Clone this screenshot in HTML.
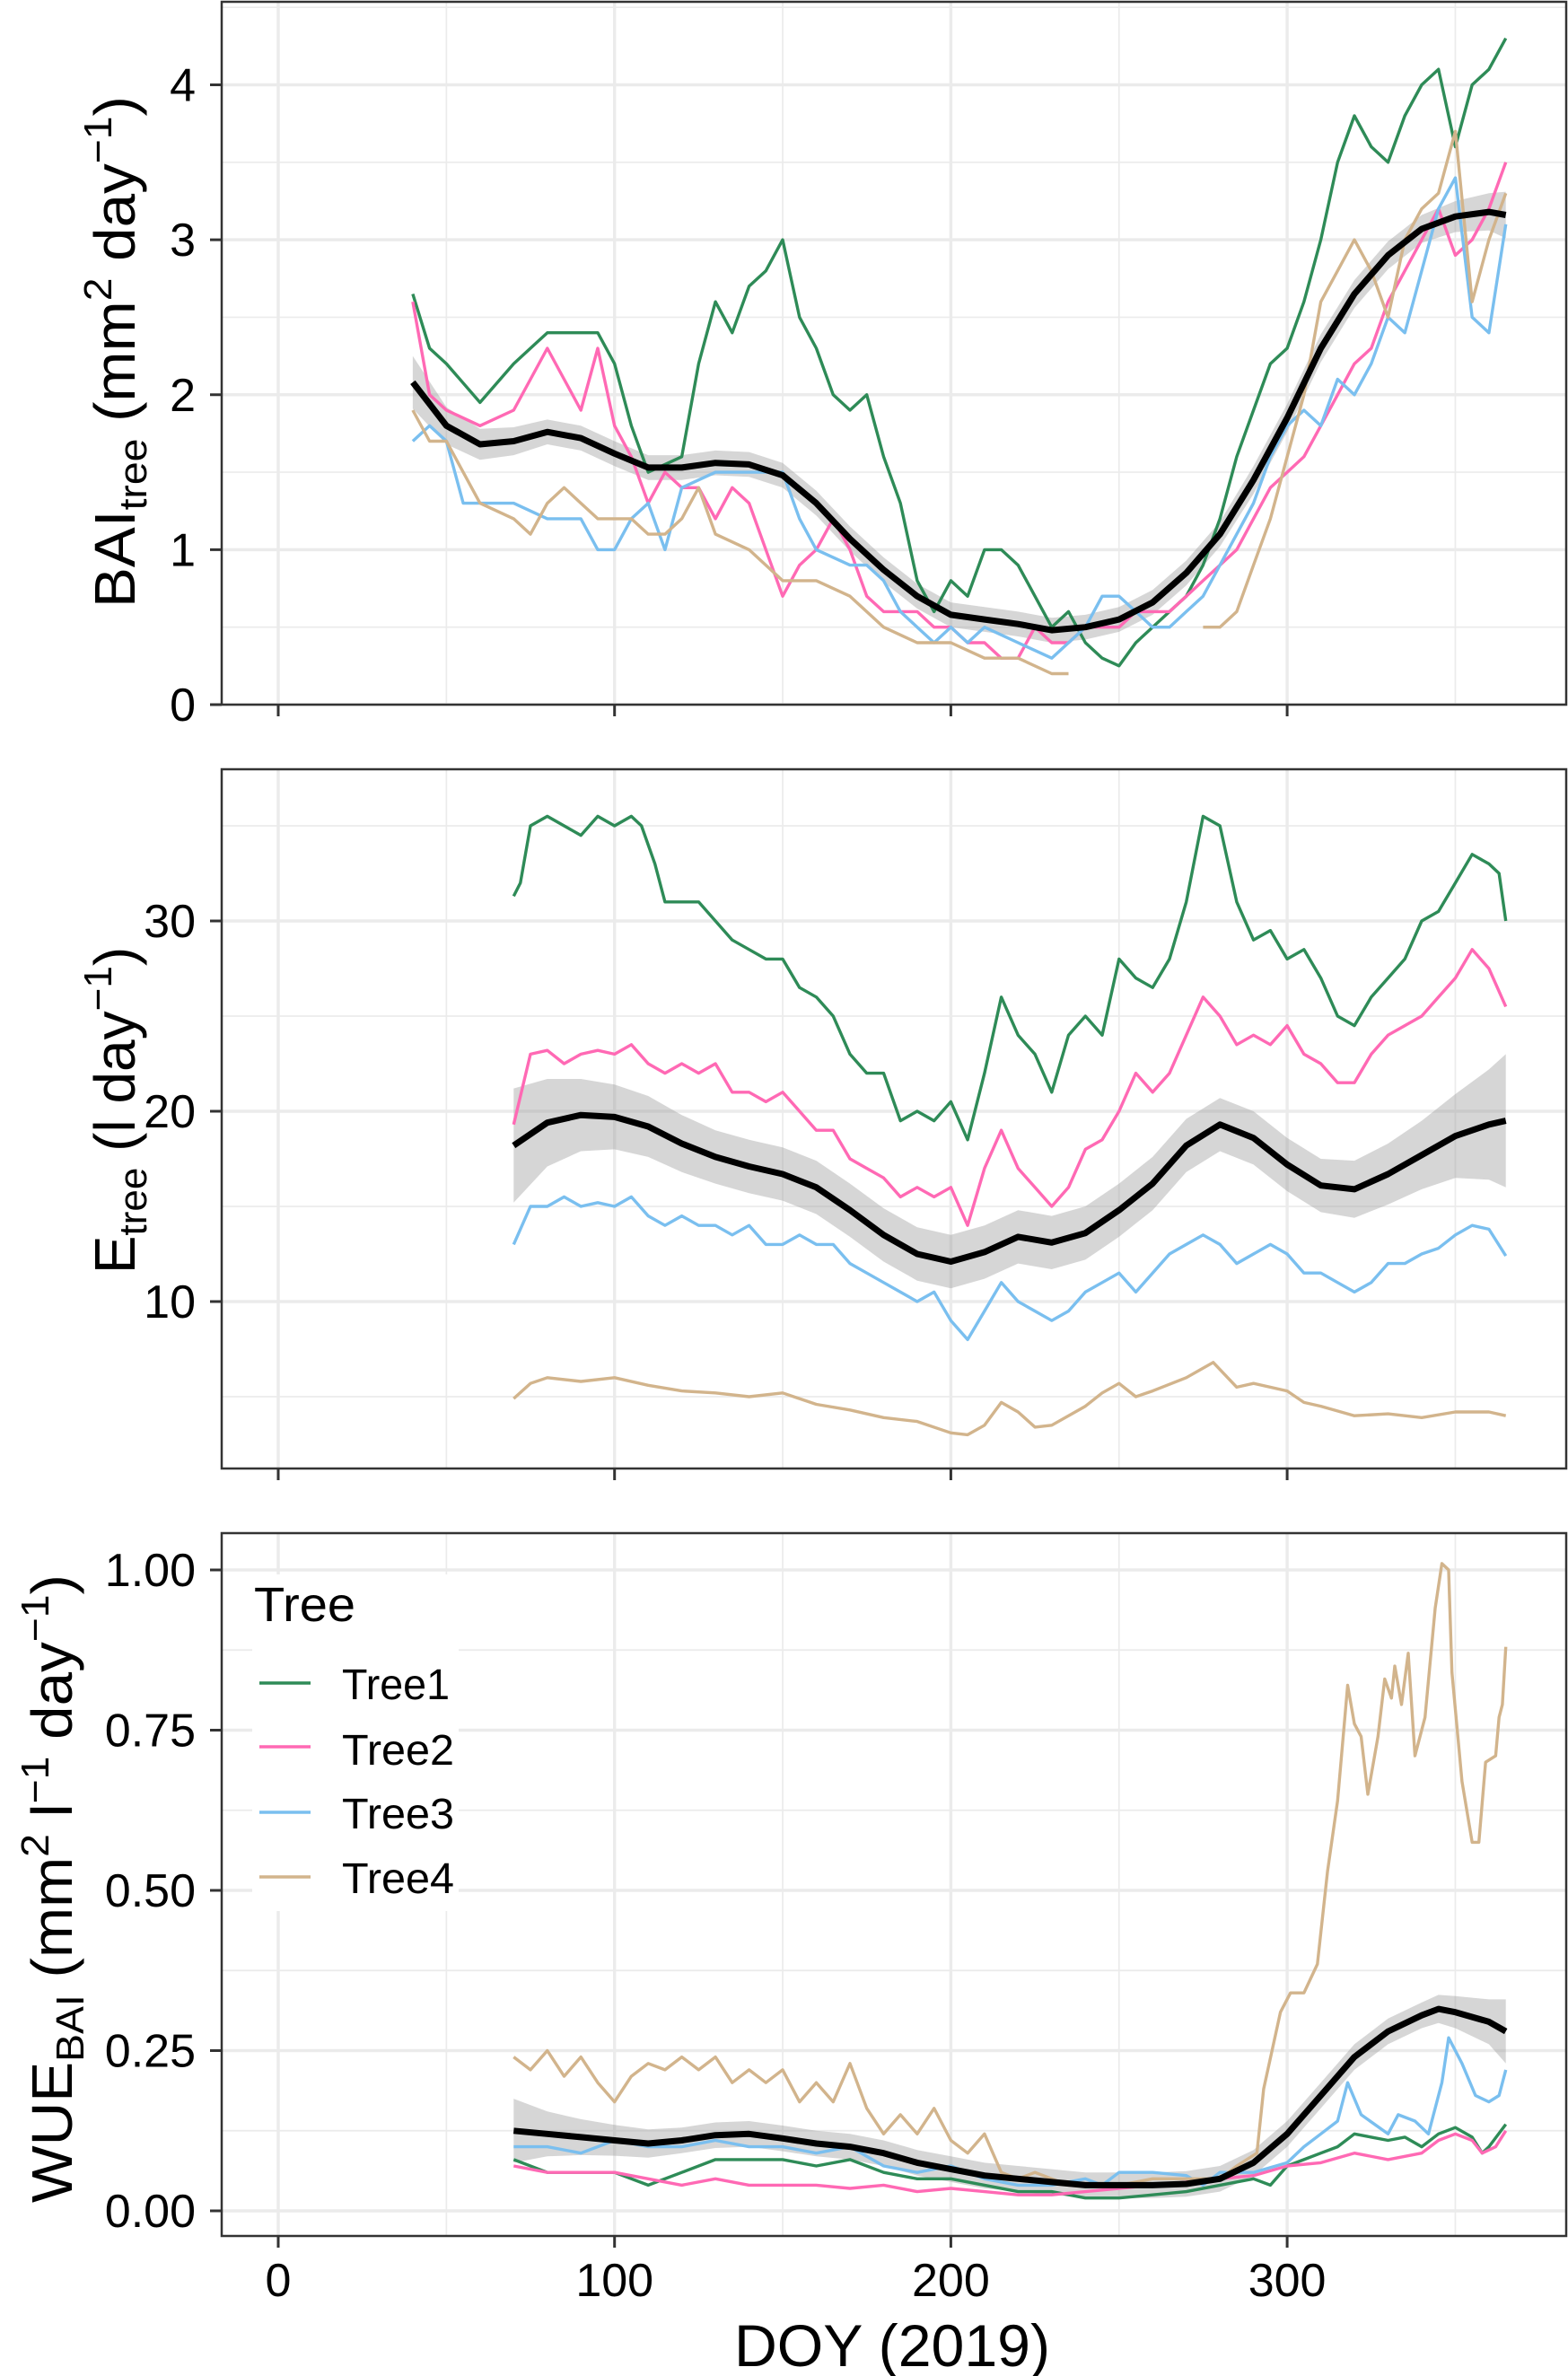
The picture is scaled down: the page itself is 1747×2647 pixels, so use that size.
<!DOCTYPE html>
<html><head><meta charset="utf-8"><style>
html,body{margin:0;padding:0;background:#fff}
svg{display:block;font-family:"Liberation Sans",Arial,sans-serif}
</style></head><body>
<svg id="chart" width="1747" height="2647" viewBox="0 0 1747 2647" xmlns="http://www.w3.org/2000/svg">
<g id="panels"></g>
<text x="994" y="2636" font-size="66" text-anchor="middle" fill="#000" textLength="352" lengthAdjust="spacingAndGlyphs">DOY (2019)</text>
<text transform="translate(150,392) rotate(-90)" font-size="64" text-anchor="middle" fill="#000" textLength="570" lengthAdjust="spacingAndGlyphs">BAI<tspan font-size="44" dy="13">tree</tspan><tspan dy="-13"> (mm</tspan><tspan font-size="44" dy="-26">2</tspan><tspan dy="26"> day</tspan><tspan font-size="44" dy="-26">−1</tspan><tspan dy="26">)</tspan></text>
<text transform="translate(150,1237) rotate(-90)" font-size="64" text-anchor="middle" fill="#000">E<tspan font-size="44" dy="13">tree</tspan><tspan dy="-13"> (l day</tspan><tspan font-size="44" dy="-26">−1</tspan><tspan dy="26">)</tspan></text>
<text transform="translate(80,2104) rotate(-90)" font-size="64" text-anchor="middle" fill="#000" textLength="700" lengthAdjust="spacingAndGlyphs">WUE<tspan font-size="44" dy="13">BAI</tspan><tspan dy="-13"> (mm</tspan><tspan font-size="44" dy="-26">2</tspan><tspan dy="26"> l</tspan><tspan font-size="44" dy="-26">−1</tspan><tspan dy="26"> day</tspan><tspan font-size="44" dy="-26">−1</tspan><tspan dy="26">)</tspan></text>
<g>
<text x="283" y="1806" font-size="54" fill="#000" textLength="113" lengthAdjust="spacingAndGlyphs">Tree</text>
<line x1="289" y1="1875" x2="346" y2="1875" stroke="#2e8b57" stroke-width="3.5"/>
<text x="381" y="1893" font-size="48" textLength="120" lengthAdjust="spacingAndGlyphs">Tree1</text>
<line x1="289" y1="1946" x2="346" y2="1946" stroke="#ff69b4" stroke-width="3.5"/>
<text x="381" y="1966" font-size="48" textLength="125" lengthAdjust="spacingAndGlyphs">Tree2</text>
<line x1="289" y1="2019" x2="346" y2="2019" stroke="#7abfef" stroke-width="3.5"/>
<text x="381" y="2037" font-size="48" textLength="125" lengthAdjust="spacingAndGlyphs">Tree3</text>
<line x1="289" y1="2091" x2="346" y2="2091" stroke="#d2b48c" stroke-width="3.5"/>
<text x="381" y="2109" font-size="48" textLength="125" lengthAdjust="spacingAndGlyphs">Tree4</text>
</g>
</svg>
<script>
// x tick values
const xTicks = [0,100,200,300];
const xMinor = [50,150,250,350];
// BAI panel
const baiTicks = [0,1,2,3,4];
const baiT1x = [40,45,50,60,70,80,90,95,100,105,110,120,125,130,135,140,145,150,152,155,160,165,170,175,180,185,190,195,200,205,210,215,220,225,230,235,240,245,250,255,260,265,270,275,280,285,290,295,300,305,310,315,320,325,330,335,340,345,350,355,360,365];
const baiT1y = [2.65,2.3,2.2,1.95,2.2,2.4,2.4,2.4,2.2,1.8,1.5,1.6,2.2,2.6,2.4,2.7,2.8,3.0,2.8,2.5,2.3,2.0,1.9,2.0,1.6,1.3,0.8,0.6,0.8,0.7,1.0,1.0,0.9,0.7,0.5,0.6,0.4,0.3,0.25,0.4,0.5,0.6,0.7,0.9,1.2,1.6,1.9,2.2,2.3,2.6,3.0,3.5,3.8,3.6,3.5,3.8,4.0,4.1,3.6,4.0,4.1,4.3];
const baiT2x = [40,45,50,60,70,80,85,90,95,100,105,110,115,120,125,130,135,140,145,150,155,160,165,170,175,180,185,190,195,200,205,210,215,220,225,230,235,240,245,250,255,260,265,270,275,280,285,290,295,300,305,310,315,320,325,330,335,340,345,350,355,360,365];
const baiT2y = [2.6,2.0,1.9,1.8,1.9,2.3,2.1,1.9,2.3,1.8,1.6,1.3,1.5,1.4,1.4,1.2,1.4,1.3,1.0,0.7,0.9,1.0,1.2,1.0,0.7,0.6,0.6,0.6,0.5,0.5,0.4,0.4,0.3,0.3,0.5,0.4,0.4,0.5,0.5,0.5,0.6,0.6,0.6,0.7,0.8,0.9,1.0,1.2,1.4,1.5,1.6,1.8,2.0,2.2,2.3,2.6,2.8,3.0,3.2,2.9,3.0,3.2,3.5];
const baiT3x = [40,45,50,55,60,70,80,90,95,100,105,110,115,120,130,140,150,155,160,170,175,180,185,190,195,200,205,210,220,230,240,245,250,255,260,265,270,275,280,285,290,295,300,305,310,315,320,325,330,335,340,345,350,355,360,365];
const baiT3y = [1.7,1.8,1.7,1.3,1.3,1.3,1.2,1.2,1.0,1.0,1.2,1.3,1.0,1.4,1.5,1.5,1.5,1.2,1.0,0.9,0.9,0.8,0.6,0.5,0.4,0.5,0.4,0.5,0.4,0.3,0.5,0.7,0.7,0.6,0.5,0.5,0.6,0.7,0.9,1.1,1.3,1.6,1.8,1.9,1.8,2.1,2.0,2.2,2.5,2.4,2.8,3.2,3.4,2.5,2.4,3.1];
const baiT4x = [40,45,50,55,60,70,75,80,85,90,95,100,105,110,115,120,125,130,140,150,160,170,180,190,200,210,220,230,235,null,275,280,285,290,295,300,305,310,315,320,325,330,335,340,345,350,355,360,365];
const baiT4y = [1.9,1.7,1.7,1.5,1.3,1.2,1.1,1.3,1.4,1.3,1.2,1.2,1.2,1.1,1.1,1.2,1.4,1.1,1.0,0.8,0.8,0.7,0.5,0.4,0.4,0.3,0.3,0.2,0.2,null,0.5,0.5,0.6,0.9,1.2,1.6,2.0,2.6,2.8,3.0,2.8,2.5,3.0,3.2,3.3,3.7,2.6,3.0,3.3];
const baiMeanX = [40,50,60,70,80,90,100,110,120,130,140,150,160,170,180,190,200,210,220,230,240,250,260,270,280,290,300,310,320,330,340,350,360,365];
const baiMeanY = [2.08,1.8,1.68,1.7,1.76,1.72,1.62,1.53,1.53,1.56,1.55,1.48,1.3,1.07,0.87,0.7,0.58,0.55,0.52,0.48,0.5,0.55,0.66,0.85,1.1,1.45,1.85,2.3,2.65,2.9,3.07,3.15,3.18,3.16];
const baiSe = [0.17,0.12,0.1,0.09,0.08,0.08,0.08,0.08,0.08,0.08,0.08,0.08,0.08,0.08,0.08,0.08,0.08,0.08,0.08,0.08,0.08,0.08,0.08,0.08,0.08,0.09,0.09,0.09,0.09,0.09,0.09,0.1,0.12,0.15];
// E panel
const eTicks = [10,20,30];
const eT1x = [70,72,75,80,85,90,95,100,105,108,112,115,120,125,130,135,140,145,150,155,160,165,170,175,180,185,190,195,200,205,210,215,220,225,230,235,240,245,250,255,260,265,270,275,280,285,290,295,300,305,310,315,320,325,330,335,340,345,350,355,360,363,365];
const eT1y = [31.3,32,35,35.5,35,34.5,35.5,35,35.5,35,33,31,31,31,30,29,28.5,28,28,26.5,26,25,23,22,22,19.5,20,19.5,20.5,18.5,22,26,24,23,21,24,25,24,28,27,26.5,28,31,35.5,35,31,29,29.5,28,28.5,27,25,24.5,26,27,28,30,30.5,32,33.5,33,32.5,30];
const eT2x = [70,75,80,85,90,95,100,105,110,115,120,125,130,135,140,145,150,155,160,165,170,175,180,185,190,195,200,205,210,215,220,225,230,235,240,245,250,255,260,265,270,275,280,285,290,295,300,305,310,315,320,325,330,335,340,345,350,355,360,365];
const eT2y = [19.3,23,23.2,22.5,23,23.2,23,23.5,22.5,22,22.5,22,22.5,21,21,20.5,21,20,19,19,17.5,17,16.5,15.5,16,15.5,16,14,17,19,17,16,15,16,18,18.5,20,22,21,22,24,26,25,23.5,24,23.5,24.5,23,22.5,21.5,21.5,23,24,24.5,25,26,27,28.5,27.5,25.5];
const eT3x = [70,75,80,85,90,95,100,105,110,115,120,125,130,135,140,145,150,155,160,165,170,175,180,185,190,195,200,205,210,215,220,225,230,235,240,245,250,255,260,265,270,275,280,285,290,295,300,305,310,315,320,325,330,335,340,345,350,355,360,365];
const eT3y = [13,15,15,15.5,15,15.2,15,15.5,14.5,14,14.5,14,14,13.5,14,13,13,13.5,13,13,12,11.5,11,10.5,10,10.5,9,8,9.5,11,10,9.5,9,9.5,10.5,11,11.5,10.5,11.5,12.5,13,13.5,13,12,12.5,13,12.5,11.5,11.5,11,10.5,11,12,12,12.5,12.8,13.5,14,13.8,12.4];
const eT4x = [70,75,80,90,100,110,120,130,140,150,160,170,180,190,200,205,210,215,220,225,230,240,245,250,255,260,270,278,285,290,300,305,310,320,330,340,350,360,365];
const eT4y = [4.9,5.7,6,5.8,6,5.6,5.3,5.2,5,5.2,4.6,4.3,3.9,3.7,3.1,3,3.5,4.7,4.2,3.4,3.5,4.5,5.2,5.7,5,5.3,6,6.8,5.5,5.7,5.3,4.7,4.5,4,4.1,3.9,4.2,4.2,4];
const eMeanX = [70,80,90,100,110,120,130,140,150,160,170,180,190,200,210,220,230,240,250,260,270,280,290,300,310,320,330,340,350,360,365];
const eMeanY = [18.2,19.4,19.8,19.7,19.2,18.3,17.6,17.1,16.7,16.0,14.8,13.5,12.5,12.1,12.6,13.4,13.1,13.6,14.8,16.2,18.2,19.3,18.6,17.2,16.1,15.9,16.7,17.7,18.7,19.3,19.5];
const eSe = [3.0,2.3,1.9,1.7,1.6,1.5,1.4,1.4,1.4,1.4,1.4,1.4,1.4,1.4,1.4,1.4,1.4,1.4,1.4,1.4,1.4,1.4,1.4,1.4,1.4,1.5,1.6,1.8,2.2,2.9,3.5];
// WUE panel
const wTicks = [0,0.25,0.5,0.75,1.0];
const wTickLabels = ["0.00","0.25","0.50","0.75","1.00"];
const wT1x = [70,80,90,100,110,120,130,140,150,160,170,180,190,200,210,220,230,240,250,260,270,280,290,295,300,305,310,315,320,325,330,335,340,345,350,355,358,360,365];
const wT1y = [0.08,0.06,0.06,0.06,0.04,0.06,0.08,0.08,0.08,0.07,0.08,0.06,0.05,0.05,0.04,0.03,0.03,0.02,0.02,0.025,0.03,0.04,0.05,0.04,0.07,0.08,0.09,0.1,0.12,0.115,0.11,0.115,0.1,0.12,0.13,0.115,0.09,0.1,0.135];
const wT2x = [70,80,90,100,110,120,130,140,150,160,170,180,190,200,210,220,230,240,250,260,270,280,290,300,310,320,330,340,345,350,355,358,362,365];
const wT2y = [0.07,0.06,0.06,0.06,0.05,0.04,0.05,0.04,0.04,0.04,0.035,0.04,0.03,0.035,0.03,0.025,0.025,0.03,0.035,0.04,0.045,0.05,0.055,0.07,0.075,0.09,0.08,0.09,0.11,0.12,0.11,0.09,0.1,0.125];
const wT3x = [70,80,90,100,110,120,130,140,150,160,170,180,190,200,210,220,230,240,245,250,260,270,275,280,290,300,305,310,315,318,322,330,333,338,342,346,348,352,356,360,363,365];
const wT3y = [0.1,0.1,0.09,0.11,0.1,0.1,0.11,0.1,0.1,0.09,0.1,0.07,0.06,0.07,0.05,0.04,0.04,0.05,0.04,0.06,0.06,0.055,0.04,0.06,0.06,0.075,0.1,0.12,0.14,0.2,0.15,0.12,0.15,0.14,0.12,0.2,0.27,0.23,0.18,0.17,0.18,0.22];
const wT4x = [70,75,80,85,90,95,100,105,110,115,120,125,130,135,140,145,150,155,160,165,170,175,180,185,190,195,200,205,210,215,220,225,230,235,240,250,260,270,280,285,291,293,298,301,305,309,312,315,318,320,322,324,327,329,331,332,334,336,338,341,344,346,348,349,352,355,357,359,362,363,364,365];
const wT4y = [0.24,0.22,0.25,0.21,0.24,0.2,0.17,0.21,0.23,0.22,0.24,0.22,0.24,0.2,0.22,0.2,0.22,0.17,0.2,0.17,0.23,0.16,0.12,0.15,0.12,0.16,0.11,0.09,0.12,0.06,0.05,0.06,0.05,0.04,0.04,0.04,0.05,0.05,0.05,0.07,0.09,0.19,0.31,0.34,0.34,0.385,0.53,0.64,0.82,0.76,0.74,0.65,0.74,0.83,0.8,0.85,0.79,0.87,0.71,0.77,0.94,1.01,1.0,0.84,0.67,0.575,0.575,0.7,0.71,0.77,0.79,0.88];
const wMeanX = [70,80,90,100,110,120,130,140,150,160,170,180,190,200,210,220,230,240,250,260,270,280,290,300,310,320,330,340,345,350,360,365];
const wMeanY = [0.125,0.12,0.115,0.11,0.105,0.11,0.118,0.12,0.113,0.105,0.1,0.09,0.075,0.065,0.055,0.05,0.045,0.04,0.04,0.04,0.042,0.05,0.075,0.12,0.18,0.24,0.28,0.305,0.315,0.31,0.295,0.28];
const wSe = [0.05,0.035,0.028,0.024,0.022,0.02,0.02,0.02,0.02,0.02,0.02,0.02,0.02,0.02,0.02,0.02,0.02,0.02,0.02,0.02,0.02,0.02,0.02,0.02,0.02,0.02,0.02,0.02,0.022,0.025,0.035,0.05];

const NS='http://www.w3.org/2000/svg';
const root=document.getElementById('panels');
const PL=247, PR=1745;
function xScale(v){return 310+v*3.747;}
function mk(tag,attrs,parent){const e=document.createElementNS(NS,tag);for(const k in attrs)e.setAttribute(k,attrs[k]);parent.appendChild(e);return e;}
function pathFrom(xs,ys,sx,sy){let d='',pen=false;for(let i=0;i<xs.length;i++){if(xs[i]===null||ys[i]===null){pen=false;continue;}d+=(pen?'L':'M')+sx(xs[i]).toFixed(1)+','+sy(ys[i]).toFixed(1);pen=true;}return d;}

function panel(name,top,bot,y0,yPx0,y1,yPx1,ticks,labels,minors,series,mx,my,se,legendBox){
  const sy=v=>yPx0+(v-y0)*(yPx1-yPx0)/(y1-y0);
  const g=mk('g',{},root);
  
  
  const clipId='clip-'+name;
  const cp=mk('clipPath',{id:clipId},g);mk('rect',{x:PL,y:top,width:PR-PL,height:bot-top},cp);
  const grid=mk('g',{},g);
  
  
  minors.forEach(v=>{const y=sy(v);if(y>top&&y<bot)mk('line',{x1:PL,x2:PR,y1:y,y2:y,stroke:'#ebebeb','stroke-width':1.7},grid);});
  xMinor.forEach(v=>{const x=xScale(v);mk('line',{x1:x,x2:x,y1:top,y2:bot,stroke:'#ebebeb','stroke-width':1.7},grid);});
  ticks.forEach(v=>{const y=sy(v);mk('line',{x1:PL,x2:PR,y1:y,y2:y,stroke:'#ebebeb','stroke-width':3.4},grid);});
  xTicks.forEach(v=>{const x=xScale(v);mk('line',{x1:x,x2:x,y1:top,y2:bot,stroke:'#ebebeb','stroke-width':3.4},grid);});
  if(legendBox){const lb=mk('rect',{x:281,y:1754,width:230,height:375,fill:'#fff'},grid);
    
    }
  const data=mk('g',{'clip-path':'url(#'+clipId+')'},g);
  let d='';
  for(let i=0;i<mx.length;i++)d+=(i?'L':'M')+xScale(mx[i]).toFixed(1)+','+sy(my[i]+se[i]).toFixed(1);
  for(let i=mx.length-1;i>=0;i--)d+='L'+xScale(mx[i]).toFixed(1)+','+sy(my[i]-se[i]).toFixed(1);
  const rib=mk('path',{d:d+'Z',fill:'#999','fill-opacity':0.4},data);
  
  
  series.forEach(s=>{
    const p=mk('path',{d:pathFrom(s.x,s.y,xScale,sy),fill:'none',stroke:s.c,'stroke-width':3.4,'stroke-linejoin':'round'},data);
    
    
  });
  const m=mk('path',{d:pathFrom(mx,my,xScale,sy),fill:'none',stroke:'#000','stroke-width':7,'stroke-linejoin':'round'},data);
  
  
  const fr=mk('rect',{x:PL,y:top,width:PR-PL,height:bot-top,fill:'none',stroke:'#333','stroke-width':2.5},g);
  
  
  ticks.forEach((v,i)=>{const y=sy(v);
    mk('line',{x1:PL-13,x2:PL,y1:y,y2:y,stroke:'#333','stroke-width':3},g);
    const t=mk('text',{x:218,y:y+18,'font-size':52,'text-anchor':'end',fill:'#000'},g);
    
    
    t.textContent=labels[i];});
  xTicks.forEach(v=>{const x=xScale(v);mk('line',{x1:x,x2:x,y1:bot,y2:bot+13,stroke:'#333','stroke-width':3},g);});
  return g;
}
panel('bai',2,785,0,785,4,94.5,baiTicks,baiTicks.map(String),[0.5,1.5,2.5,3.5,4.5],
 [{n:'tree1',c:'#2e8b57',x:baiT1x,y:baiT1y},{n:'tree2',c:'#ff69b4',x:baiT2x,y:baiT2y},{n:'tree3',c:'#7abfef',x:baiT3x,y:baiT3y},{n:'tree4',c:'#d2b48c',x:baiT4x,y:baiT4y}],
 baiMeanX,baiMeanY,baiSe,false);
panel('e',857,1636,10,1450,30,1026,eTicks,eTicks.map(String),[5,15,25,35],
 [{n:'tree1',c:'#2e8b57',x:eT1x,y:eT1y},{n:'tree2',c:'#ff69b4',x:eT2x,y:eT2y},{n:'tree3',c:'#7abfef',x:eT3x,y:eT3y},{n:'tree4',c:'#d2b48c',x:eT4x,y:eT4y}],
 eMeanX,eMeanY,eSe,false);
const wg=panel('wue',1708,2491,0,2463,1,1749,wTicks,wTickLabels,[0.125,0.375,0.625,0.875],
 [{n:'tree1',c:'#2e8b57',x:wT1x,y:wT1y},{n:'tree2',c:'#ff69b4',x:wT2x,y:wT2y},{n:'tree3',c:'#7abfef',x:wT3x,y:wT3y},{n:'tree4',c:'#d2b48c',x:wT4x,y:wT4y}],
 wMeanX,wMeanY,wSe,true);
xTicks.forEach(v=>{
  const t=mk('text',{x:xScale(v),y:2558,'font-size':52,'text-anchor':'middle',fill:'#000'},wg);
  
  
  t.textContent=String(v);
});
</script>
</body></html>
